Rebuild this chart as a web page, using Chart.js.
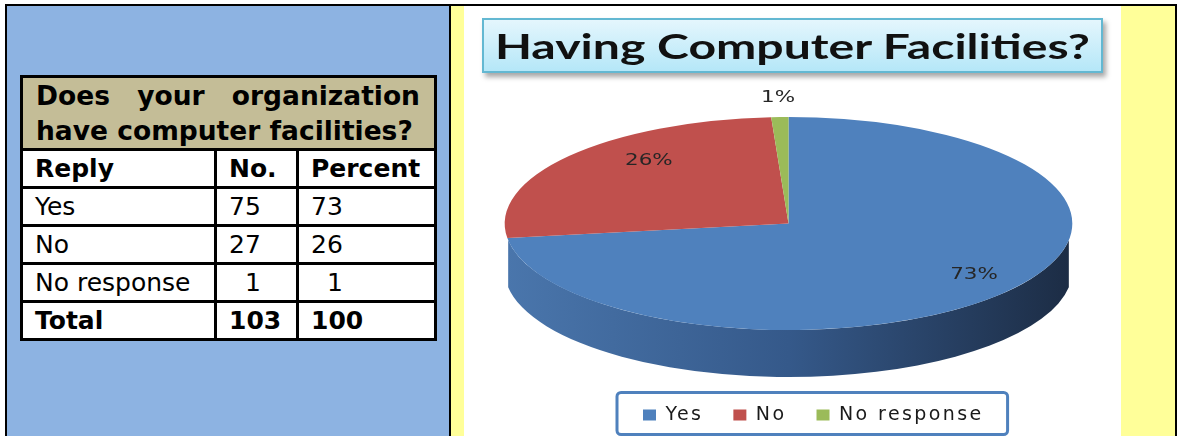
<!DOCTYPE html>
<html><head><meta charset="utf-8">
<script src="https://cdn.jsdelivr.net/npm/chart.js@4.4.1/dist/chart.umd.min.js"></script>
<style>
html,body{margin:0;padding:0;width:1177px;height:436px;overflow:hidden;background:#fff;}
#frame{position:absolute;left:5px;top:4px;width:1168px;height:440px;border:2px solid #000;border-bottom:none;}
#leftPanel{position:absolute;left:7px;top:6px;width:442px;height:430px;background:#8db3e2;}
#divider{position:absolute;left:449px;top:6px;width:2px;height:430px;background:#000;}
#yellow{position:absolute;left:451px;top:6px;width:724px;height:430px;background:#ffff99;}
#white{position:absolute;left:464px;top:6px;width:657px;height:430px;background:#fff;}
#chartWrap{position:absolute;left:464px;top:6px;width:657px;height:430px;}
#titleBox{position:absolute;left:482px;top:18px;width:617px;height:51px;border:2px solid #63b8d2;
  background:linear-gradient(#e4f6fd,#b5e7f8);box-shadow:3px 4px 5px rgba(0,0,0,0.35);
  display:flex;align-items:center;justify-content:center;}
#titleText{display:inline-block;font-family:Lato,"Open Sans",sans-serif;font-weight:700;font-size:35px;color:#111;white-space:nowrap;transform-origin:center;line-height:1;}
table{position:absolute;left:20px;top:75px;border-collapse:collapse;table-layout:fixed;width:414px;
  font-family:"DejaVu Sans",Verdana,sans-serif;color:#000;}
td{border:3px solid #000;padding:0 0 0 12px;line-height:35px;font-size:25px;background:#fff;white-space:nowrap;overflow:hidden;vertical-align:middle;}
td.q{background:#c4bd97;font-weight:bold;font-size:26.5px;text-align:justify;white-space:normal;padding:0 14px 0 13px;}
tr.q{height:73px;}
tr.r{height:38px;}
.b{font-weight:bold;}
</style>
</head>
<body>
<div id="frame"></div>
<div id="leftPanel"></div>
<div id="divider"></div>
<div id="yellow"></div>
<div id="white"></div>
<table id="tbl">
  <colgroup><col style="width:194px"><col style="width:82px"><col style="width:138px"></colgroup>
  <tbody id="tbody"></tbody>
</table>
<div id="chartWrap"><canvas id="c" width="657" height="430"></canvas></div>
<div id="titleBox"><span id="titleText">Having Computer Facilities?</span></div>
<script>
// ---- data ----
const question = 'Does your organization have computer facilities?';
const headers = ['Reply', 'No.', 'Percent'];
const categories = ['Yes', 'No', 'No response'];
const counts = [75, 27, 1];
const percents = [73, 26, 1];
const totalLabel = 'Total';
const chartTitle = 'Having Computer Facilities?';

// ---- styles ----
const sliceColors = ['#4f81bd', '#c0504d', '#9bbb59'];
const sideColors = [
  ['#4a76ac', '#35598a', '#1c2c44'],
  ['#b04a47', '#933f3c', '#6e2d2b'],
  ['#8fae52', '#7a9545', '#5c7033']
];

// ---- table ----
(function buildTable(){
  const tb = document.getElementById('tbody');
  const sum = a => a.reduce((s, v) => s + v, 0);
  let html = '<tr class="q"><td class="q" colspan="3">' + question + '</td></tr>';
  html += '<tr class="r">' + headers.map(h => '<td class="b">' + h + '</td>').join('') + '</tr>';
  const pad = v => (String(v).length < 2 ? '&nbsp;&nbsp;' : '') + v;
  categories.forEach((c, i) => {
    html += '<tr class="r"><td>' + c + '</td><td>' + pad(counts[i]) + '</td><td>' + pad(percents[i]) + '</td></tr>';
  });
  html += '<tr class="r"><td class="b">' + totalLabel + '</td><td class="b">' + sum(counts) + '</td><td class="b">' + sum(percents) + '</td></tr>';
  tb.innerHTML = html;
})();

// ---- title fit ----
(function fitTitle(){
  const t = document.getElementById('titleText');
  t.textContent = chartTitle;
  const w = t.getBoundingClientRect().width;
  t.style.transform = 'scaleX(' + (595 / w) + ')';
})();

// ---- 3D pie helpers ----
const TILT_STRETCH = 2.665;     // horizontal stretch of the circle into the tilted ellipse
const SIDE_DEPTH = 47;          // thickness of the pie
const SIDE_HIDDEN = 9 * Math.PI / 180; // perspective: rim near the silhouette is not visible
const LETTER_SPACING = '2.4px';
const LABEL_SHIFT = { x: 25, y: -7 };

function frontRanges(s, e) {
  const out = [];
  const lo = SIDE_HIDDEN, hi = Math.PI - SIDE_HIDDEN;
  for (const k of [-1, 0, 1]) {
    const a = Math.max(s + 2 * Math.PI * k, lo);
    const b = Math.min(e + 2 * Math.PI * k, hi);
    if (b > a) out.push([a, b]);
  }
  return out;
}

const spacingPlugin = {
  id: 'spacing',
  beforeLayout(chart) { chart.ctx.letterSpacing = LETTER_SPACING; },
  beforeDraw(chart) { chart.ctx.letterSpacing = LETTER_SPACING; }
};

const pie3d = {
  id: 'pie3d',
  beforeDatasetsDraw(chart) {
    const ctx = chart.ctx;
    const arcs = chart.getDatasetMeta(0).data;
    const p = arcs[0].getProps(['x', 'y', 'outerRadius'], true);
    const cx = p.x, cy = p.y, r = p.outerRadius;
    ctx.save();
    ctx.translate(cx, cy);
    ctx.scale(TILT_STRETCH, 1);
    arcs.forEach((arc, i) => {
      const q = arc.getProps(['startAngle', 'endAngle'], true);
      frontRanges(q.startAngle, q.endAngle).forEach(([a, b]) => {
        const g = ctx.createLinearGradient(-r, 0, r, 0);
        const cs = sideColors[i];
        cs.forEach((c, j) => g.addColorStop(j / (cs.length - 1), c));
        ctx.beginPath();
        ctx.arc(0, 0, r, a, b);
        ctx.arc(0, SIDE_DEPTH, r, b, a, true);
        ctx.closePath();
        ctx.fillStyle = g;
        ctx.fill();
      });
    });
    ctx.restore();
    ctx.save();
    ctx.translate(cx, cy);
    ctx.scale(TILT_STRETCH, 1);
    ctx.translate(-cx, -cy);
  },
  afterDatasetsDraw(chart) {
    const ctx = chart.ctx;
    ctx.restore();
    const arcs = chart.getDatasetMeta(0).data;
    arcs.forEach((arc, i) => {
      const q = arc.getProps(['x', 'y', 'startAngle', 'endAngle', 'outerRadius'], true);
      const m = (q.startAngle + q.endAngle) / 2;
      const small = percents[i] < 5;
      const fx = small ? 1.2 : 0.75, fy = small ? 1.18 : 0.83;
      const px = q.x + TILT_STRETCH * q.outerRadius * fx * Math.cos(m) + (small ? 0 : LABEL_SHIFT.x);
      const py = q.y + q.outerRadius * fy * Math.sin(m) + (small ? 0 : LABEL_SHIFT.y);
      ctx.save();
      ctx.letterSpacing = '0px';
      ctx.translate(px, py);
      ctx.scale(1.3, 1);
      ctx.font = '16.5px "DejaVu Sans"';
      ctx.fillStyle = '#262626';
      ctx.textAlign = 'center';
      ctx.textBaseline = 'middle';
      ctx.fillText(percents[i] + '%', 0, 0);
      ctx.restore();
    });
  },
  afterDraw(chart) {
    const ctx = chart.ctx;
    const hb = chart.legend.legendHitBoxes;
    if (!hb || !hb.length) return;
    const last = hb[hb.length - 1];
    const l = hb[0].left - 26, r = last.left + last.width + 24;
    const t = hb[0].top - 13, b = hb[0].top + hb[0].height + 10;
    ctx.save();
    ctx.lineWidth = 3;
    ctx.strokeStyle = '#4f81bd';
    ctx.beginPath();
    ctx.roundRect(l, t, r - l, b - t, 4);
    ctx.stroke();
    ctx.restore();
  }
};

new Chart(document.getElementById('c'), {
  type: 'pie',
  data: {
    labels: categories,
    datasets: [{
      data: counts,
      backgroundColor: sliceColors,
      borderWidth: 0,
      clip: false
    }]
  },
  options: {
    responsive: false,
    animation: false,
    devicePixelRatio: 1,
    layout: { padding: { left: 149, right: 95, top: 111, bottom: 1.5 } },
    plugins: {
      tooltip: { enabled: false },
      // empty right-side title used only as a spacer so the pie sits left of the legend centre
      title: { display: true, text: '', position: 'right', fullSize: false, font: { size: 10, lineHeight: 1 }, padding: { top: 52, bottom: 0 } },
      legend: {
        position: 'bottom',
        align: 'start',
        title: { display: true, text: '', font: { size: 10, lineHeight: 1 }, padding: { top: 35.5, bottom: 0 } },
        labels: {
          boxWidth: 13,
          boxHeight: 11,
          padding: 30,
          color: '#1a1a1a',
          font: { family: '"DejaVu Sans"', size: 19 }
        }
      }
    }
  },
  plugins: [spacingPlugin, pie3d]
});
</script>
</body></html>
